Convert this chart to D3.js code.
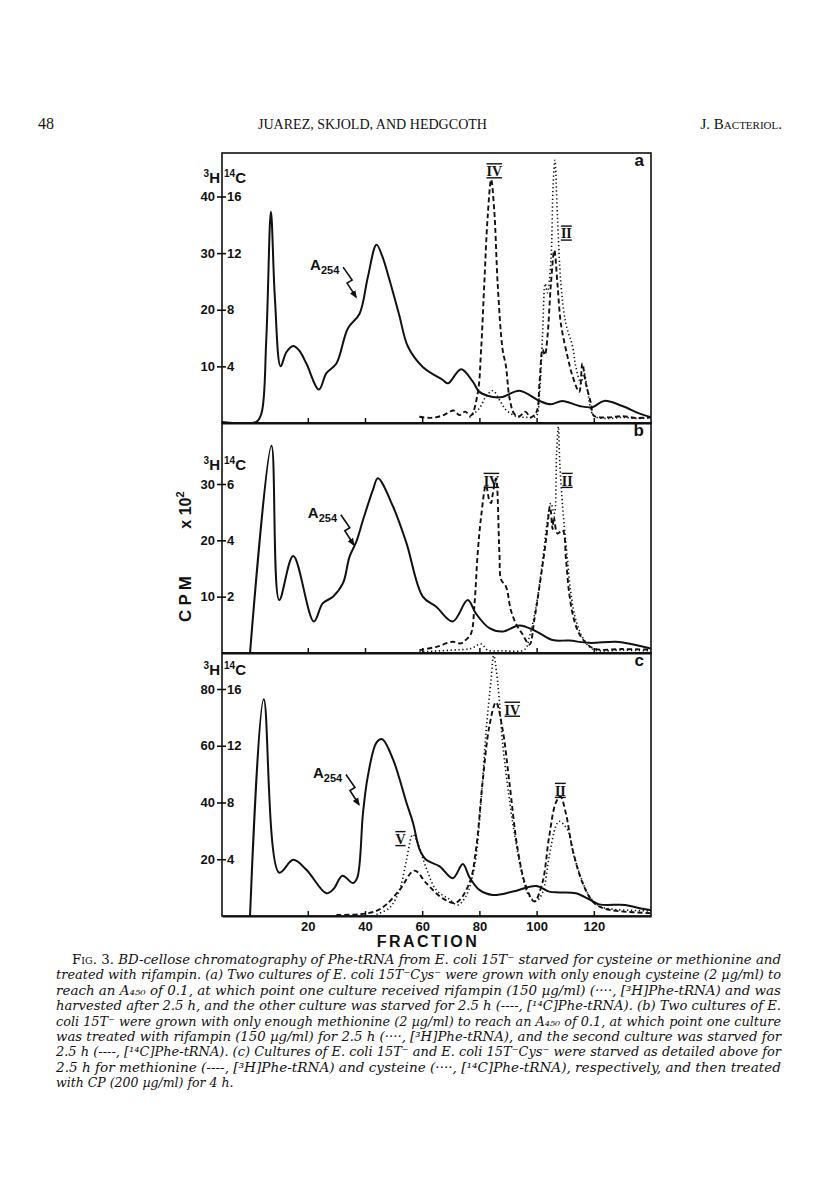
<!DOCTYPE html>
<html>
<head>
<meta charset="utf-8">
<script src="https://cdn.jsdelivr.net/npm/d3@7"></script>
<style>
  body { margin: 0; background: #fff; }
  svg { display: block; }
</style>
</head>
<body>
<svg id="page" width="816" height="1193"></svg>
<script>
// ---- data (fraction, value) ----
// values on the left (3H, cpm x 10^2) axis unless noted as 14C
let xTicks = [20, 40, 60, 80, 100, 120];

// panel a
let aLeftTicks = [10, 20, 30, 40];
let aRightTicks = [4, 8, 12, 16];
let aA254 = [[-10,0.2],[2,0.2],[3.8,1.7],[5.5,15],[7.1,37.3],[8.5,22],[10.5,10.0],[12.5,12.5],[14.9,13.6],[17,12.8],[19.5,10.5],[23.9,5.9],[26.5,8.8],[30,10.5],[34,16.7],[38.1,19.3],[41,25.8],[44,31.5],[46,29.5],[48.6,25.2],[52,19],[55,13.5],[60.2,9.9],[67.2,7.6],[69,7.0],[73.6,9.5],[77.7,7.3],[80,5.5],[84.7,4.6],[88.1,4.6],[94,5.7],[101,3.9],[105,3.3],[109,3.9],[115,3.0],[119.5,2.8],[123.6,3.9],[130,3.0],[135.8,1.7],[140,1.0]];
let aC14 = [[59,0.44],[63,0.36],[67,0.52],[71,0.88],[73,0.56],[75,0.8],[77,0.52],[79.4,2.1],[80.6,5.2],[81.7,9.8],[82.9,14.6],[84.1,17.2],[85.2,15.0],[86.4,9.8],[88.1,5.2],[89.3,4.0],[90.5,1.8],[92.2,0.64],[94,0.48],[96,0.8],[98,0.4],[100,0.8],[101,2.8],[102.1,5.2],[102.9,4.8],[103.8,6.1],[105,9.8],[106.2,12.2],[107.3,9.8],[108.5,7.0],[110.8,4.7],[112.6,3.3],[114.9,2.2],[116,4.2],[117.2,2.8],[119,1.4],[120,0.52],[125,0.4],[130,0.48],[135,0.36],[140,0.4]];
let aH3 = [[76.5,1.0],[80,2.6],[82.2,4.6],[84.7,5.7],[87,4.1],[89.3,2.3],[92.8,1.2],[96.3,1.0],[99.8,1.2],[101,5.2],[102.1,15.8],[103,24.6],[103.8,23],[105,28.7],[105.8,42.3],[106.4,46.4],[107.3,36.4],[108.5,24.6],[110.2,17.6],[112.6,13.5],[113.7,10.0],[115.5,7.0],[116.6,8.8],[117.8,5.8],[120,1.3],[125,0.8],[130,1.0],[135,0.8],[140,0.9]];

// panel b
let bLeftTicks = [10, 20, 30];
let bRightTicks = [2, 4, 6];
let bA254 = [[-0.2,0],[7.3,36.8],[10,9.4],[14.9,17.2],[22.1,5.6],[25.2,8.8],[28.8,10.0],[32.3,12.4],[34.6,17.1],[37,19.8],[39.3,23.6],[42.8,29.0],[44.5,31.0],[49.8,26.0],[54.5,19.5],[60.2,10.0],[64.9,8.2],[70.7,5.6],[75.9,9.4],[78.8,7.0],[83.5,4.4],[88.1,3.8],[94,4.9],[100,3.8],[105.6,2.3],[111.4,2.2],[118.4,1.8],[127.7,2.0],[133,1.6],[140,0.8]];
let bC14 = [[59,0.1],[65,0.22],[70.7,0.4],[73.5,0.34],[75.2,0.46],[77.1,0.7],[78.3,1.76],[79.4,3.54],[80.6,4.84],[82.3,5.96],[83.5,5.4],[84.1,5.32],[84.6,5.6],[85.8,6.2],[87,3.54],[87.6,2.6],[89.3,2.36],[91,1.52],[92.8,1.04],[95,0.68],[97.5,0.3],[99.2,1.18],[101,2.36],[103.3,4.02],[104.7,5.2],[105.6,4.4],[106,4.84],[107.3,4.24],[109.1,4.36],[110.3,3.3],[111.4,2.12],[113.1,1.18],[115.5,0.58],[120,0.16],[130,0.14],[140,0.12]];
let bH3 = [[59,0.2],[70,0.5],[77,0.8],[80.6,1.6],[83,0.5],[88,0.4],[95.8,0.6],[97.5,2.9],[99.8,8.2],[102,15.9],[103.8,23.6],[105,26.6],[106.2,24.8],[107,35.5],[107.6,40.2],[108.1,33.7],[109.1,26.0],[109.6,23],[110.8,16.5],[112,10.6],[113.7,5.9],[116.6,2.3],[120,0.6],[130,0.5],[140,0.4]];

// panel c (here 3H is dashed, 14C dotted)
let cLeftTicks = [20, 40, 60, 80];
let cRightTicks = [4, 8, 12, 16];
let cA254 = [[-0.2,0],[4.6,76.4],[10,15.3],[14.9,19.8],[19.5,16.3],[26.5,8.0],[29,9.5],[32.1,14.2],[35.8,11.6],[37.3,13.5],[39.3,36.3],[41,49.3],[44,61.1],[46,62.3],[49.8,55.2],[54.5,39.9],[56.8,32.8],[59.1,23.4],[61.4,19.8],[66.1,17.5],[70.7,13.3],[74.2,18.3],[76.5,13.7],[80,9.2],[84.7,7.4],[91.7,8.6],[99.8,10.6],[104.4,8.6],[107.9,8.3],[113.7,8.0],[118.4,5.9],[121.9,4.1],[131,3.9],[135.7,2.8],[140,2.0]];
let cH3 = [[30,0.4],[38.1,0.6],[44,1.8],[47.5,4.1],[52.1,9.2],[57.3,16.0],[61.4,11.6],[67.2,6.2],[71.8,4.7],[76.5,11.6],[78.8,23.4],[81.1,47.0],[83.5,67.0],[85.8,75.3],[88.1,65.8],[90.5,47.0],[93.4,23.4],[96.3,10.4],[99.2,5.1],[102,11.6],[104.4,28.1],[106.7,39.9],[108.3,42.2],[110.2,36.3],[112.6,23.4],[116.1,11.6],[119.6,5.1],[123.1,2.8],[128.9,1.7],[140,1.0]];
let cC14 = [[44,0.12],[48.6,0.58],[52.1,1.84],[54.5,3.96],[56.7,5.74],[58.4,5.18],[61.4,3.38],[64.9,1.84],[69.5,1.18],[72.4,0.78],[75.3,1.4],[78.3,3.5],[80.6,8.2],[82.3,12.94],[84.1,16.7],[85,18.36],[86.4,16.46],[88.1,12.22],[90.5,8.2],[92.8,5.14],[95.1,2.78],[97.4,1.4],[99.8,1.06],[102,1.6],[104.4,4.2],[106.7,6.32],[107.9,6.68],[110.8,6.08],[113.1,4.2],[116.1,2.4],[118.4,1.42],[121.9,0.7],[126.6,0.48],[140,0.36]];

// peak labels: [fraction, left value, text]
let aPeaks = [[85.2,43.6,"IV"],[110.4,32.6,"II"]];
let bPeaks = [[84.2,29.7,"IV"],[110.7,29.7,"II"]];
let cPeaks = [[91.5,71,"IV"],[108.3,42.4,"II"],[52.4,25.4,"V"]];
// A254 label anchors: [fraction, left value]
let aA254Label = [20.8, 27];
let bA254Label = [20.0, 24];
let cA254Label = [21.8, 48.8];

let captionLines = [
  "BD-cellose chromatography of Phe-tRNA from E. coli 15T\u207B starved for cysteine or methionine and",
  "treated with rifampin. (a) Two cultures of E. coli 15T\u207BCys\u207B were grown with only enough cysteine (2 \u00B5g/ml) to",
  "reach an A\u2084\u2085\u2080 of 0.1, at which point one culture received rifampin (150 \u00B5g/ml) (\u00B7\u00B7\u00B7\u00B7, [\u00B3H]Phe-tRNA) and was",
  "harvested after 2.5 h, and the other culture was starved for 2.5 h (----, [\u00B9\u2074C]Phe-tRNA). (b) Two cultures of E.",
  "coli 15T\u207B were grown with only enough methionine (2 \u00B5g/ml) to reach an A\u2084\u2085\u2080 of 0.1, at which point one culture",
  "was treated with rifampin (150 \u00B5g/ml) for 2.5 h (\u00B7\u00B7\u00B7\u00B7, [\u00B3H]Phe-tRNA), and the second culture was starved for",
  "2.5 h (----, [\u00B9\u2074C]Phe-tRNA). (c) Cultures of E. coli 15T\u207B and E. coli 15T\u207BCys\u207B were starved as detailed above for",
  "2.5 h for methionine (----, [\u00B3H]Phe-tRNA) and cysteine (\u00B7\u00B7\u00B7\u00B7, [\u00B9\u2074C]Phe-tRNA), respectively, and then treated",
  "with CP (200 \u00B5g/ml) for 4 h."
];

// ---- layout ----
let svg = d3.select("#page");
let plotLeft = 222, plotRight = 651;
let sans = "'Liberation Sans', Arial, sans-serif";
let serif = "'Liberation Serif', 'Times New Roman', serif";
let capSerif = "'DejaVu Serif', 'Liberation Serif', serif";

let x = d3.scaleLinear().domain([-10, 140]).range([plotLeft, plotRight]);

let panels = [
  { key: "a", top: 153, bottom: 423, topTickY: 196.5, leftTicks: aLeftTicks, rightTicks: aRightTicks,
    solid: aA254, dashed: { data: aC14, axis: "right" }, dotted: { data: aH3, axis: "left" },
    peaks: aPeaks, label: aA254Label },
  { key: "b", top: 423, bottom: 653, topTickY: 484, leftTicks: bLeftTicks, rightTicks: bRightTicks,
    solid: bA254, dashed: { data: bC14, axis: "right" }, dotted: { data: bH3, axis: "left" },
    peaks: bPeaks, label: bA254Label },
  { key: "c", top: 653, bottom: 916, topTickY: 689, leftTicks: cLeftTicks, rightTicks: cRightTicks,
    solid: cA254, dashed: { data: cH3, axis: "left" }, dotted: { data: cC14, axis: "right" },
    peaks: cPeaks, label: cA254Label }
];

let defs = svg.append("defs");
defs.append("marker")
  .attr("id", "arrow")
  .attr("viewBox", "0 0 10 10")
  .attr("refX", 8).attr("refY", 5)
  .attr("markerWidth", 5).attr("markerHeight", 5)
  .attr("orient", "auto")
  .append("path").attr("d", "M0,1 L10,5 L0,9 Z").attr("fill", "#111");

panels.forEach(function (p) {
  let yL = d3.scaleLinear().domain([0, p.leftTicks[p.leftTicks.length - 1]]).range([p.bottom, p.topTickY]);
  let yR = d3.scaleLinear().domain([0, p.rightTicks[p.rightTicks.length - 1]]).range([p.bottom, p.topTickY]);
  let g = svg.append("g").attr("class", "panel-" + p.key);

  defs.append("clipPath").attr("id", "clip-" + p.key)
    .append("rect")
    .attr("x", plotLeft).attr("y", p.top)
    .attr("width", plotRight - plotLeft).attr("height", p.bottom - p.top);

  let lineL = d3.line().x(d => x(d[0])).y(d => yL(d[1])).curve(d3.curveCatmullRom.alpha(0.5));
  let lineR = d3.line().x(d => x(d[0])).y(d => yR(d[1])).curve(d3.curveCatmullRom.alpha(0.5));

  let curves = g.append("g").attr("clip-path", "url(#clip-" + p.key + ")");
  curves.append("path").attr("d", lineL(p.solid))
    .attr("fill", "none").attr("stroke", "#111").attr("stroke-width", 2)
    .attr("stroke-linejoin", "round");
  curves.append("path").attr("d", (p.dashed.axis === "left" ? lineL : lineR)(p.dashed.data))
    .attr("fill", "none").attr("stroke", "#111").attr("stroke-width", 1.9)
    .attr("stroke-dasharray", "5,3");
  curves.append("path").attr("d", (p.dotted.axis === "left" ? lineL : lineR)(p.dotted.data))
    .attr("fill", "none").attr("stroke", "#111").attr("stroke-width", 1.6)
    .attr("stroke-dasharray", "1.3,2.6").attr("stroke-linecap", "butt");

  // frame
  g.append("rect")
    .attr("x", plotLeft).attr("y", p.top)
    .attr("width", plotRight - plotLeft).attr("height", p.bottom - p.top)
    .attr("fill", "none").attr("stroke", "#111").attr("stroke-width", 1.6);

  // bottom axis with inward ticks
  let xAxis = d3.axisBottom(x).tickValues(xTicks).tickSizeInner(-5).tickSizeOuter(0).tickPadding(6);
  if (p.key !== "c") xAxis.tickFormat("");
  let xg = g.append("g").attr("transform", "translate(0," + p.bottom + ")").call(xAxis);
  xg.select(".domain").attr("stroke-width", 2.2).attr("stroke", "#111");
  xg.selectAll(".tick line").attr("stroke", "#111").attr("stroke-width", 1.5);
  xg.selectAll(".tick text").attr("font-family", sans).attr("font-weight", "bold")
    .attr("font-size", 13).attr("fill", "#111");

  // left (3H) and right (14C) tick labels crossing the axis
  let lg = g.append("g").attr("transform", "translate(" + plotLeft + ",0)")
    .call(d3.axisLeft(yL).tickValues(p.leftTicks).tickFormat(d3.format("d")).tickSize(5).tickPadding(2));
  let rg = g.append("g").attr("transform", "translate(" + plotLeft + ",0)")
    .call(d3.axisRight(yR).tickValues(p.rightTicks).tickFormat(d3.format("d")).tickSize(4).tickPadding(1));
  [lg, rg].forEach(function (ag) {
    ag.select(".domain").remove();
    ag.selectAll(".tick line").attr("stroke", "#111").attr("stroke-width", 1.6);
    ag.selectAll(".tick text").attr("font-family", sans).attr("font-weight", "bold")
      .attr("font-size", 13).attr("fill", "#111");
  });

  // isotope header
  let hy = p.topTickY - 14;
  let ht = g.append("text").attr("x", plotLeft - 2).attr("y", hy).attr("text-anchor", "end")
    .attr("font-family", sans).attr("font-weight", "bold").attr("font-size", 15).attr("fill", "#111");
  ht.append("tspan").attr("font-size", 10).attr("dy", -6).text("3");
  ht.append("tspan").attr("dy", 6).text("H");
  let ct = g.append("text").attr("x", plotLeft + 2).attr("y", hy)
    .attr("font-family", sans).attr("font-weight", "bold").attr("font-size", 15).attr("fill", "#111");
  ct.append("tspan").attr("font-size", 10).attr("dy", -6).text("14");
  ct.append("tspan").attr("dy", 6).text("C");

  // panel letter
  g.append("text").attr("x", plotRight - 7).attr("y", p.top + 13).attr("text-anchor", "end")
    .attr("font-family", sans).attr("font-weight", "bold").attr("font-size", 17).attr("fill", "#111")
    .text(p.key);

  // peak labels (roman numerals with bars)
  p.peaks.forEach(function (pk) {
    g.append("text").attr("x", x(pk[0])).attr("y", yL(pk[1])).attr("text-anchor", "middle")
      .attr("font-family", serif).attr("font-weight", "bold").attr("font-size", 14).attr("fill", "#111")
      .style("text-decoration", "underline overline")
      .text(pk[2]);
  });

  // A254 label with zig-zag arrow
  let lx = x(p.label[0]), ly = yL(p.label[1]);
  let la = g.append("g").attr("transform", "translate(" + lx + "," + ly + ")");
  let lt = la.append("text").attr("font-family", sans).attr("font-weight", "bold")
    .attr("font-size", 15).attr("fill", "#111");
  lt.append("tspan").text("A");
  lt.append("tspan").attr("font-size", 11).attr("dy", 4).text("254");
  la.append("path").attr("d", "M33,-3 L42,10 L37,13 L46,27")
    .attr("fill", "none").attr("stroke", "#111").attr("stroke-width", 1.6)
    .attr("marker-end", "url(#arrow)");
});

// axis titles
svg.append("text").attr("transform", "translate(428,947)").attr("text-anchor", "middle")
  .attr("font-family", sans).attr("font-weight", "bold").attr("font-size", 16)
  .attr("letter-spacing", 2.5).attr("fill", "#111").text("FRACTION");
svg.append("text").attr("transform", "translate(191,597) rotate(-90)").attr("text-anchor", "middle")
  .attr("font-family", sans).attr("font-weight", "bold").attr("font-size", 17)
  .attr("letter-spacing", 4).attr("fill", "#111").text("CPM");
let xt = svg.append("text").attr("transform", "translate(191,510) rotate(-90)").attr("text-anchor", "middle")
  .attr("font-family", sans).attr("font-weight", "bold").attr("font-size", 16).attr("fill", "#111");
xt.append("tspan").text("x 10");
xt.append("tspan").attr("font-size", 11).attr("dy", -7).text("2");

// running head
svg.append("text").attr("x", 38).attr("y", 129).attr("font-family", serif).attr("font-size", 16)
  .attr("fill", "#111").text("48");
svg.append("text").attr("x", 258).attr("y", 129).attr("font-family", serif).attr("font-size", 15)
  .attr("textLength", 229).attr("lengthAdjust", "spacingAndGlyphs").attr("fill", "#111")
  .text("JUAREZ, SKJOLD, AND HEDGCOTH");
svg.append("text").attr("x", 782).attr("y", 129).attr("text-anchor", "end").attr("font-family", serif)
  .attr("font-size", 15).attr("fill", "#111").style("font-variant", "small-caps")
  .text("J. Bacteriol.");

// caption
let capLeft = 56, capRight = 781, capTop = 964, capStep = 15.4;
captionLines.forEach(function (line, i) {
  let t = svg.append("text").attr("y", capTop + i * capStep)
    .attr("font-family", capSerif).attr("font-size", 12.5).attr("fill", "#111");
  if (i === 0) {
    t.attr("x", capLeft + 16);
    t.append("tspan").style("font-variant", "small-caps").text("Fig. 3. ");
    t.append("tspan").attr("font-style", "italic").text(line);
    t.attr("textLength", capRight - capLeft - 16).attr("lengthAdjust", "spacingAndGlyphs");
  } else {
    t.attr("x", capLeft).attr("font-style", "italic").text(line);
    if (i < captionLines.length - 1) t.attr("textLength", capRight - capLeft).attr("lengthAdjust", "spacingAndGlyphs");
  }
});
</script>
</body>
</html>
